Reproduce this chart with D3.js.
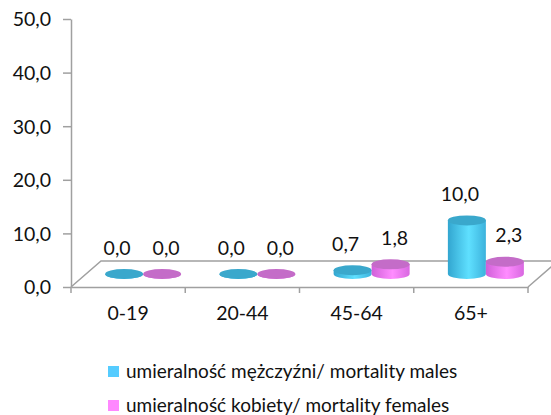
<!doctype html>
<html>
  <head>
    <meta charset="utf-8">
    <script src="https://cdn.jsdelivr.net/npm/d3@7/dist/d3.min.js"></script>
    <style>
      body { margin: 0; background: #fff; }
      text { font-family: Lato, "Open Sans", sans-serif; fill: #111; }
      .axis path, .axis line { stroke: #a0a0a0; stroke-width: 1.5; }
    </style>
  </head>
  <body>
    <script>
        var ageGroups = ["0-19", "20-44", "45-64", "65+"];
        var males = [0.0, 0.0, 0.7, 10.0];
        var females = [0.0, 0.0, 1.8, 2.3];
        var seriesNames = ["umieralność mężczyźni/ mortality males", "umieralność kobiety/ mortality females"];
        var yTicks = [0, 10, 20, 30, 40, 50];

        var width = 551, height = 415;
        var plot = {left: 71, right: 528, top: 19, bottom: 287};
        var depth = {dx: 30, dy: -26};
        var fontSize = "19.5px";

        var svg = d3.select("body").append("svg")
            .attr("width", width)
            .attr("height", height);

        var defs = svg.append("defs");
        function sideGradient(id, stops) {
            var g = defs.append("linearGradient").attr("id", id)
                .attr("x1", "0%").attr("x2", "100%").attr("y1", "0%").attr("y2", "0%");
            stops.forEach(function(s) {
                g.append("stop").attr("offset", s[0]).attr("stop-color", s[1]);
            });
        }
        sideGradient("gMale", [["0%", "#32a6d0"], ["55%", "#5fe0ff"], ["100%", "#3cb2dc"]]);
        sideGradient("gFemale", [["0%", "#d060d8"], ["55%", "#ff8cff"], ["100%", "#d868e0"]]);

        var colors = [
            {side: "url(#gMale)", top: "#3aa8cc", legend: "#55ccff"},
            {side: "url(#gFemale)", top: "#c46cc8", legend: "#ff88ff"}
        ];

        var x = d3.scaleBand()
            .domain(ageGroups)
            .range([plot.left, plot.right]);

        var y = d3.scaleLinear()
            .domain([0, 50])
            .range([plot.bottom, plot.top]);

        var commaFmt = function(d) { return d3.format(".1f")(d).replace(".", ","); };

        // floor (3d base)
        svg.append("path")
            .attr("fill", "none").attr("stroke", "#a0a0a0").attr("stroke-width", 1.5)
            .attr("d", "M" + plot.left + "," + plot.bottom +
                " L" + (plot.left + depth.dx) + "," + (plot.bottom + depth.dy) +
                " L" + (plot.right + depth.dx) + "," + (plot.bottom + depth.dy) +
                " L" + plot.right + "," + plot.bottom);

        // y axis
        svg.append("g")
            .attr("class", "axis")
            .attr("transform", "translate(" + plot.left + ",0)")
            .call(d3.axisLeft(y).tickValues(yTicks).tickSize(8).tickSizeOuter(0).tickPadding(12).tickFormat(commaFmt))
            .call(function(g) {
                g.selectAll("text").style("font-size", fontSize).attr("dy", "0.35em");
            });

        // x axis
        var xAxis = svg.append("g")
            .attr("class", "axis")
            .attr("transform", "translate(0," + plot.bottom + ")")
            .call(d3.axisBottom(x).tickSize(0).tickSizeOuter(0))
            .call(function(g) {
                g.selectAll("text").style("font-size", fontSize).attr("y", 26).attr("dy", "0.35em");
            });
        xAxis.selectAll(".bound")
            .data(d3.range(ageGroups.length + 1))
            .enter().append("line")
            .attr("x1", function(i) { return plot.left + i * x.step(); })
            .attr("x2", function(i) { return plot.left + i * x.step(); })
            .attr("y1", 0).attr("y2", 6);

        // cylinders
        var rx = 19, ry = 5;
        var midDx = depth.dx / 2, midDy = depth.dy / 2;
        var offsets = [-19, 19];
        var labelDx = [-7, 4];

        [males, females].forEach(function(vals, si) {
            var bars = svg.append("g").attr("class", "series-" + si)
                .selectAll("g")
                .data(vals.map(function(v, i) { return {v: v, cat: ageGroups[i]}; }))
                .enter().append("g");

            bars.each(function(d) {
                var g = d3.select(this);
                var cx = x(d.cat) + x.bandwidth() / 2 + midDx + offsets[si];
                var base = y(0) + midDy;
                var top = y(d.v) + midDy;
                g.append("path")
                    .attr("d", "M" + (cx - rx) + "," + top +
                        " L" + (cx - rx) + "," + base +
                        " A" + rx + "," + ry + " 0 0 0 " + (cx + rx) + "," + base +
                        " L" + (cx + rx) + "," + top + " Z")
                    .attr("fill", colors[si].side);
                g.append("ellipse")
                    .attr("cx", cx).attr("cy", top)
                    .attr("rx", rx).attr("ry", ry)
                    .attr("fill", colors[si].top);
                g.append("text")
                    .attr("x", cx + labelDx[si])
                    .attr("y", top - 26)
                    .attr("text-anchor", "middle")
                    .attr("dy", "0.35em")
                    .style("font-size", fontSize)
                    .text(commaFmt(d.v));
            });
        });

        // legend
        var legend = svg.append("g").attr("transform", "translate(108,366)");
        seriesNames.forEach(function(name, i) {
            var row = legend.append("g").attr("transform", "translate(0," + (i * 34) + ")");
            row.append("rect").attr("width", 11).attr("height", 11).attr("fill", colors[i].legend);
            row.append("text").attr("x", 18).attr("y", 12)
                .style("font-size", "19px").text(name);
        });
    </script>
  </body>
</html>
